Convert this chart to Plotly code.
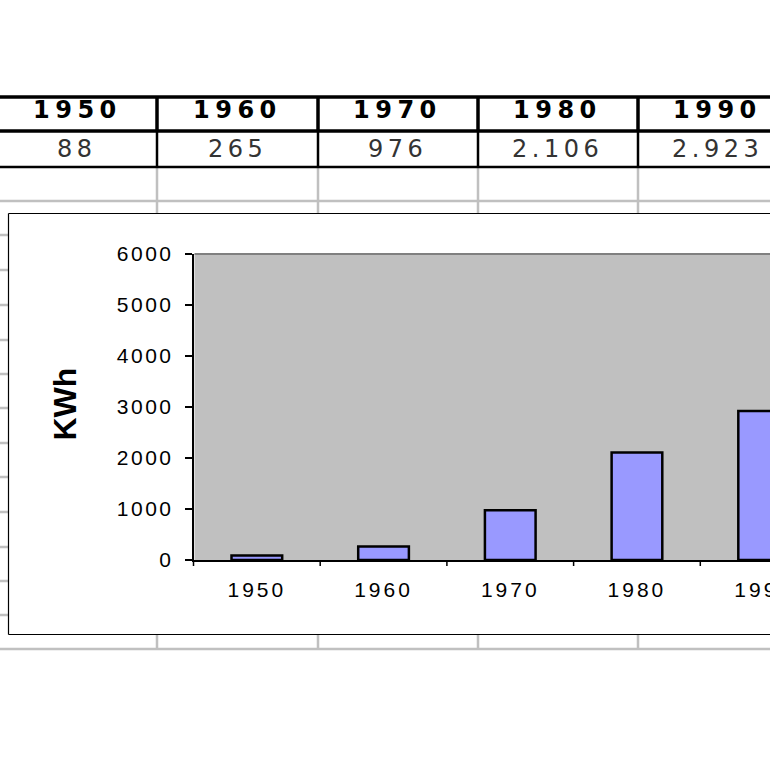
import plotly.graph_objects as go

# ---- data ----
years = ["1950", "1960", "1970", "1980", "1990"]
kwh = [88, 265, 976, 2106, 2923]
y_ticks = [0, 1000, 2000, 3000, 4000, 5000, 6000]

W = H = 770
def X(px): return px / W
def Y(py): return 1 - py / H

def fmt(v):
    return f"{v:,}".replace(",", ".")

def spaced(s, sp):
    return f'<span style="letter-spacing:{sp}px">{s}</span>'

def hline(y, x0, x1, color, w):
    return dict(type="line", xref="paper", yref="paper", x0=X(x0), x1=X(x1), y0=Y(y), y1=Y(y),
                line=dict(color=color, width=w), layer="below")

def vline(x, y0, y1, color, w):
    return dict(type="line", xref="paper", yref="paper", x0=X(x), x1=X(x), y0=Y(y0), y1=Y(y1),
                line=dict(color=color, width=w), layer="below")

shapes = []
annotations = []

# sheet gridlines (gray)
grid_c = "#C0C0C0"
row_lines = [201, 235, 270, 305, 340, 374, 408, 443, 477, 512, 547, 581, 615, 649]
for ry in row_lines:
    shapes.append(hline(ry, 0, W, grid_c, 2.5))
col_lines = [157, 318, 478, 638]
for cx in col_lines:
    shapes.append(vline(cx, 167, 649, grid_c, 2.5))

# table borders
for ry, w in [(97, 3.5), (131, 3.5), (167, 2.5)]:
    shapes.append(hline(ry, 0, W, "black", w))
for cx in col_lines:
    shapes.append(vline(cx, 97, 131, "black", 3.5))
    shapes.append(vline(cx, 131, 167, "black", 2.5))

# table text
for i, (yr, v) in enumerate(zip(years, kwh)):
    cxp = 77 + 160 * i
    annotations.append(dict(xref="paper", yref="paper", x=X(cxp), y=Y(110), text="<b>" + spaced(yr, 5.5) + "</b>",
                            showarrow=False, xanchor="center", yanchor="middle",
                            font=dict(family="DejaVu Sans", size=24, color="black")))
    annotations.append(dict(xref="paper", yref="paper", x=X(cxp), y=Y(149), text=spaced(fmt(v), 4.5),
                            showarrow=False, xanchor="center", yanchor="middle",
                            font=dict(family="DejaVu Sans", size=24, color="#333333")))

# chart area box (white, continues past the right edge)
shapes.append(dict(type="rect", xref="paper", yref="paper", x0=X(8.5), x1=1, y0=Y(634.5), y1=Y(213.5),
                   fillcolor="white", line=dict(width=0), layer="below"))
shapes.append(hline(213.5, 8.5, W, "black", 1.2))
shapes.append(hline(634.5, 8.5, W, "black", 1.2))
shapes.append(vline(8.5, 213.5, 634.5, "black", 1.2))
# plot area
shapes.append(dict(type="rect", xref="paper", yref="paper", x0=X(194.5), x1=1, y0=Y(560), y1=Y(254),
                   fillcolor="#C0C0C0", line=dict(width=0), layer="below"))
shapes.append(hline(254, 194.5, W, "#808080", 2))

annotations.append(dict(xref="paper", yref="paper", x=X(64.5), y=Y(404), text="<b>KWh</b>", textangle=-90,
                        showarrow=False, xanchor="center", yanchor="middle",
                        font=dict(family="Liberation Sans", size=32, color="black")))

x_left = 193.5
step = 126.7
x_right_val = (W - x_left) / step - 0.5

fig = go.Figure()
fig.add_trace(go.Bar(x=years, y=kwh, width=0.4,
                     marker=dict(color="#9999FF", line=dict(color="black", width=2.5))))
# category labels, clipped at the right edge like the reference
fig.add_trace(go.Scatter(x=years, y=[0.5] * len(years), mode="text", xaxis="x2", yaxis="y2",
                         text=[spaced(y, 3) for y in years], cliponaxis=True, hoverinfo="skip",
                         textfont=dict(family="Liberation Sans", size=21, color="black")))

fig.update_layout(
    width=W, height=H, autosize=False, margin=dict(l=0, r=0, t=0, b=0, pad=0),
    paper_bgcolor="white", plot_bgcolor="rgba(0,0,0,0)",
    showlegend=False, shapes=shapes, annotations=annotations,
    xaxis=dict(type="category", domain=[X(x_left), 1], range=[-0.5, x_right_val], automargin=False,
               showticklabels=False, showgrid=False, zeroline=False,
               showline=True, linecolor="black", linewidth=1.5, ticks=""),
    yaxis=dict(domain=[Y(560), Y(254)], range=[0, 6000], tickvals=y_ticks, automargin=False,
               ticktext=[spaced(str(t), 2.5) for t in y_ticks],
               showgrid=False, zeroline=False, showline=True, linecolor="black", linewidth=1.5,
               ticks="outside", ticklen=7, tickwidth=1.5, tickcolor="black",
               tickfont=dict(family="Liberation Sans", size=21, color="black"),
               ticklabelstandoff=7),
    xaxis2=dict(type="category", domain=[X(x_left), 1], range=[-0.5, x_right_val], anchor="y2",
                visible=False, categoryarray=years, categoryorder="array", automargin=False),
    yaxis2=dict(domain=[Y(610), Y(574)], range=[0, 1], anchor="x2", visible=False, automargin=False),
)

# category separator ticks on x axis (between categories)
for k in range(len(years)):
    bx = x_left + step * k
    fig.add_shape(type="line", xref="paper", yref="paper", x0=X(bx), x1=X(bx), y0=Y(560), y1=Y(566),
                  line=dict(color="black", width=1.5))

post = ("document.documentElement.style.margin='0';document.body.style.margin='0';"
        "document.body.style.overflow='hidden';"
        "var d=document.getElementById('{plot_id}');"
        "d.style.position='fixed';d.style.top='0px';d.style.left='0px';")
fig.write_html("out.html", config={"displayModeBar": False}, post_script=post)
